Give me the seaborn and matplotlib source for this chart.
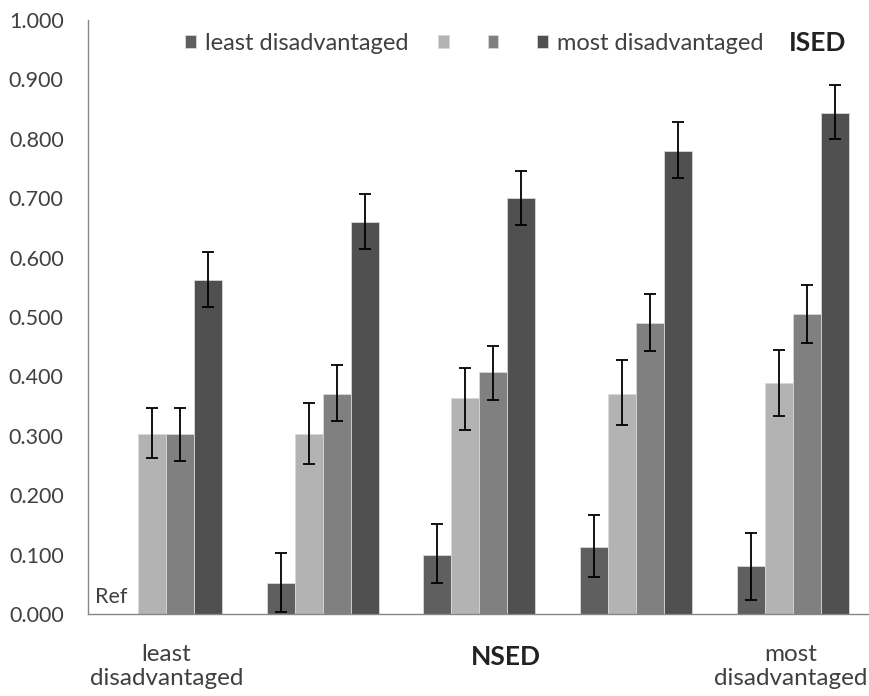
import numpy as np
import pandas as pd
import matplotlib.pyplot as plt
import seaborn as sns

# data
nsed_groups = ["g1", "g2", "g3", "g4", "g5"]
ised_levels = ["least disadvantaged", "ised2", "ised3", "most disadvantaged"]
values = {
    "least disadvantaged": [0.000, 0.053, 0.100, 0.113, 0.080],
    "ised2": [0.303, 0.303, 0.363, 0.371, 0.389],
    "ised3": [0.303, 0.371, 0.407, 0.490, 0.505],
    "most disadvantaged": [0.563, 0.660, 0.700, 0.779, 0.844],
}
err_low = {
    "least disadvantaged": [np.nan, 0.003, 0.052, 0.062, 0.023],
    "ised2": [0.262, 0.253, 0.310, 0.318, 0.333],
    "ised3": [0.258, 0.325, 0.360, 0.443, 0.456],
    "most disadvantaged": [0.517, 0.614, 0.655, 0.734, 0.799],
}
err_high = {
    "least disadvantaged": [np.nan, 0.103, 0.152, 0.167, 0.136],
    "ised2": [0.347, 0.355, 0.414, 0.427, 0.445],
    "ised3": [0.347, 0.420, 0.452, 0.539, 0.554],
    "most disadvantaged": [0.609, 0.707, 0.746, 0.828, 0.890],
}
colors = ["#5f5f5f", "#b3b3b3", "#808080", "#505050"]

rows = []
for lvl in ised_levels:
    for i, g in enumerate(nsed_groups):
        rows.append({"NSED": g, "ISED": lvl, "value": values[lvl][i]})
df = pd.DataFrame(rows)

sns.set_style("white")
plt.rcParams["font.family"] = ["Lato", "DejaVu Sans"]
txt = "#404040"

fig = plt.figure(figsize=(8.7, 6.96), dpi=100)
ax = fig.add_axes([0.1011, 0.1178, 0.9, 0.8534])

sns.barplot(data=df, x="NSED", y="value", hue="ISED", order=nsed_groups,
            hue_order=ised_levels, palette=colors, width=0.715, gap=0,
            errorbar=None, edgecolor="#d8d8d8", linewidth=0.6, ax=ax)

# error bars from the bar positions
for lvl, cont in zip(ised_levels, ax.containers):
    xs = [b.get_x() + b.get_width() / 2 for b in cont]
    v = np.array(values[lvl])
    lo = v - np.array(err_low[lvl])
    hi = np.array(err_high[lvl]) - v
    ax.errorbar(xs, v, yerr=[lo, hi], fmt="none", ecolor="black",
                elinewidth=1.3, capsize=4, capthick=1.3)

ax.set_xlim(-0.5, 4.5)
ax.set_ylim(0, 1.0)
ax.set_yticks(np.arange(0, 1.01, 0.1))
ax.set_yticklabels([f"{t:.3f}" for t in np.arange(0, 1.01, 0.1)],
                   fontsize=15.5, color=txt)
ax.set_xticks(np.arange(-0.5, 4.5, 1.0))
ax.set_xticklabels([])
ax.tick_params(axis="x", direction="out", length=6.5, color="#868686", width=1)
ax.tick_params(axis="y", direction="out", length=5.5, color="#868686", width=1, pad=12)
ax.set_xlabel("")
ax.set_ylabel("")

for s in ["top", "right"]:
    ax.spines[s].set_visible(False)
for s in ["left", "bottom"]:
    ax.spines[s].set_color("#868686")
    ax.spines[s].set_linewidth(1)

tr = ax.get_xaxis_transform()
ax.text(0, -0.088, "least\ndisadvantaged", transform=tr, ha="center", va="center",
        fontsize=17.5, color=txt, linespacing=1.15)
ax.text(2.17, -0.072, "NSED", transform=tr, ha="center", va="center",
        fontsize=19, fontweight="bold", color="#222222")
ax.text(3.99, -0.088, "most\ndisadvantaged", transform=tr, ha="center", va="center",
        fontsize=17.5, color=txt, linespacing=1.15)
ax.text(-0.455, 0.012, "Ref", ha="left", va="bottom", fontsize=15.5, color=txt)

handles, _ = ax.get_legend_handles_labels()
leg = ax.legend(handles, ["least disadvantaged", "", "", "most disadvantaged"],
                ncol=4, frameon=False, loc="center left", bbox_to_anchor=(0.124, 0.961),
                borderpad=0, borderaxespad=0,
                fontsize=17, handlelength=0.45, handleheight=0.45,
                handletextpad=0.4, columnspacing=1.25, labelcolor=txt)
ax.text(0.895, 0.961, "ISED", transform=ax.transAxes, ha="left", va="center",
        fontsize=19, fontweight="bold", color="#222222")

fig.savefig("out.png", dpi=100)
